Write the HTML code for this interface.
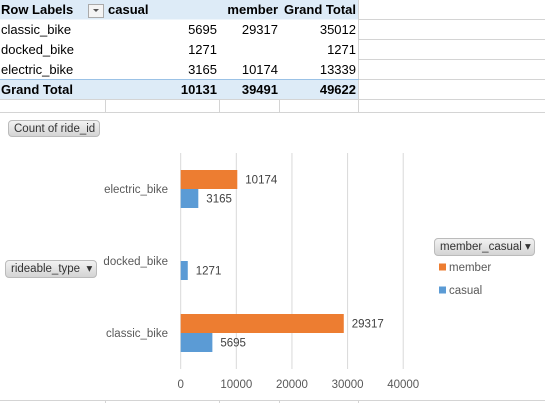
<!DOCTYPE html>
<html><head><meta charset="utf-8"><style>
body{margin:0;width:545px;height:403px;background:#fff;font-family:"Liberation Sans",Calibri,sans-serif;position:relative;overflow:hidden}
.c{position:absolute;font-size:13px;color:#000;line-height:19px;white-space:nowrap}
.btn{position:absolute;background:linear-gradient(#f2f2f2,#d4d4d4);border:1px solid #bbb;border-radius:4px;font-size:11.5px;color:#333;line-height:16px;padding-left:5px;box-sizing:border-box}
</style></head><body>
<svg width="545" height="403" style="position:absolute;left:0;top:0">
<rect x="0" y="0" width="359" height="19.5" fill="#ddebf7"/>
<rect x="0" y="79.5" width="359" height="20" fill="#ddebf7"/>
<g stroke="#d4d4d4" stroke-width="1">
<line x1="359" y1="19.5" x2="545" y2="19.5"/><line x1="359" y1="39.5" x2="545" y2="39.5"/><line x1="359" y1="59.5" x2="545" y2="59.5"/><line x1="359" y1="79.5" x2="545" y2="79.5"/>
<line x1="0" y1="99.5" x2="545" y2="99.5"/><line x1="0" y1="112.5" x2="545" y2="112.5"/>
<line x1="358.5" y1="0" x2="358.5" y2="112"/><line x1="105.5" y1="99" x2="105.5" y2="112"/><line x1="219.5" y1="99" x2="219.5" y2="112"/><line x1="279.5" y1="99" x2="279.5" y2="112"/>
<line x1="0" y1="400.5" x2="545" y2="400.5"/>
<line x1="105.5" y1="400" x2="105.5" y2="403"/><line x1="219.5" y1="400" x2="219.5" y2="403"/><line x1="279.5" y1="400" x2="279.5" y2="403"/><line x1="358.5" y1="400" x2="358.5" y2="403"/>
</g>
<line x1="0" y1="79.5" x2="359" y2="79.5" stroke="#9bc2e6"/>
<rect x="88.5" y="4.5" width="15" height="13" fill="#f4f4f4" stroke="#aaa"/>
<polygon points="93,9 99,9 96,12" fill="#555"/>
</svg>
<div>
<div class="c" style="left:1px;top:0;font-weight:bold">Row Labels</div>
<div class="c" style="left:108px;top:0;font-weight:bold">casual</div>
<div class="c" style="left:222px;top:0;width:56px;text-align:right;font-weight:bold">member</div>
<div class="c" style="left:282px;top:0;width:74px;text-align:right;font-weight:bold">Grand Total</div>
<div class="c" style="left:1px;top:20px">classic_bike</div><div class="c" style="left:108px;top:20px;width:109px;text-align:right">5695</div><div class="c" style="left:222px;top:20px;width:56px;text-align:right">29317</div><div class="c" style="left:282px;top:20px;width:74px;text-align:right">35012</div>
<div class="c" style="left:1px;top:40px">docked_bike</div><div class="c" style="left:108px;top:40px;width:109px;text-align:right">1271</div><div class="c" style="left:282px;top:40px;width:74px;text-align:right">1271</div>
<div class="c" style="left:1px;top:60px">electric_bike</div><div class="c" style="left:108px;top:60px;width:109px;text-align:right">3165</div><div class="c" style="left:222px;top:60px;width:56px;text-align:right">10174</div><div class="c" style="left:282px;top:60px;width:74px;text-align:right">13339</div>
<div class="c" style="left:1px;top:80px;font-weight:bold">Grand Total</div><div class="c" style="left:108px;top:80px;width:109px;text-align:right;font-weight:bold">10131</div><div class="c" style="left:222px;top:80px;width:56px;text-align:right;font-weight:bold">39491</div><div class="c" style="left:282px;top:80px;width:74px;text-align:right;font-weight:bold">49622</div>
</div>
<div class="btn" style="left:8px;top:120px;width:92px;height:17px">Count of ride_id</div>
<div class="btn" style="left:5px;top:260px;width:92px;height:18px">rideable_type &nbsp;▾</div>
<div class="btn" style="left:434px;top:238px;width:101px;height:18px">member_casual ▾</div>
<svg id="chart" width="545" height="403" style="position:absolute;left:0;top:0"></svg>
<script>
const categories=["electric_bike","docked_bike","classic_bike"];
const memberVals=[10174,null,29317];
const casualVals=[3165,1271,5695];
const ticks=[0,10000,20000,30000,40000];
const series=["member","casual"];
const colors={member:"#ed7d31",casual:"#5b9bd5"};
const svg=document.getElementById('chart');const NS="http://www.w3.org/2000/svg";
const x0=180.7,x1=403.2,vmax=40000,yTop=153,yBot=369;
const X=v=>x0+(v/vmax)*(x1-x0);
const band=(yBot-yTop)/categories.length;
const Yc=i=>yTop+band*(i+0.5);
function el(t,a,txt){const e=document.createElementNS(NS,t);for(const k in a)e.setAttribute(k,a[k]);if(txt!=null)e.textContent=txt;svg.appendChild(e);return e;}
ticks.forEach(t=>{
const g=el('line',{x1:X(t),x2:X(t),y1:yTop,y2:yBot,stroke:'#d9d9d9'});


const l=el('text',{x:X(t),y:388,'text-anchor':'middle','font-size':11.5,fill:'#595959','font-family':'Liberation Sans,sans-serif'},t);


});
const bh=19;
categories.forEach((c,i)=>{
const yc=Yc(i);
const cl=el('text',{x:168,y:yc+4,'text-anchor':'end','font-size':11.5,fill:'#595959','font-family':'Liberation Sans,sans-serif'},c);


[[memberVals[i],'member',yc-bh],[casualVals[i],'casual',yc]].forEach(([v,s,y])=>{
if(v==null)return;
const r=el('rect',{x:x0,y:y,width:X(v)-x0,height:bh,fill:colors[s]});


const t=el('text',{x:X(v)+8,y:y+bh/2+4,'font-size':11.5,fill:'#404040','font-family':'Liberation Sans,sans-serif'},v);


});
});
series.forEach((s,i)=>{
const y=267+i*23;
const r=el('rect',{x:439,y:y-3.5,width:7,height:7,fill:colors[s]});


const t=el('text',{x:449,y:y+4,'font-size':11.5,fill:'#595959','font-family':'Liberation Sans,sans-serif'},s);


});
</script>
</body></html>
